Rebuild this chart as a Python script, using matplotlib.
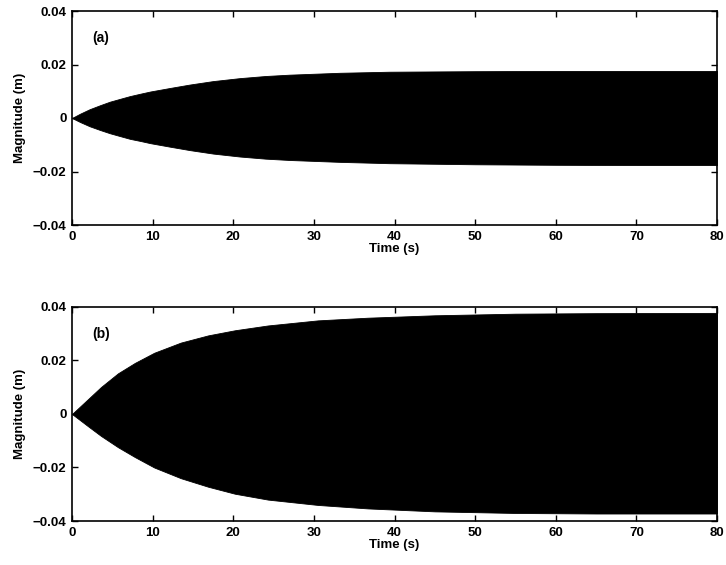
import matplotlib
matplotlib.use("Agg")
import matplotlib.pyplot as plt

# Envelope of response (a)
t_a = [0, 1, 2.2, 3.5, 4.7, 6, 7.2, 8.5, 9.7, 12.1, 14.6, 17.5, 20.8, 24, 27,
       33.2, 39.4, 50, 60, 70, 80]
upper_a = [0, 0.0016, 0.0033, 0.0048, 0.0061, 0.0072, 0.0082, 0.0091, 0.0099,
           0.0112, 0.0125, 0.0138, 0.0149, 0.0157, 0.0162, 0.0169, 0.0173,
           0.0175, 0.0176, 0.0176, 0.0176]
lower_a = [0, -0.0015, -0.0031, -0.0045, -0.0057, -0.0068, -0.0078, -0.0086,
           -0.0094, -0.0107, -0.0120, -0.0133, -0.0144, -0.0152, -0.0157,
           -0.0164, -0.0169, -0.0173, -0.0175, -0.0176, -0.0176]

# Envelope of response (b)
t_b = [0, 1, 2, 3.6, 5.7, 7.8, 10.2, 13.5, 16.9, 20.2, 24.3, 30.5, 36.7, 45,
       55, 65, 80]
upper_b = [0, 0.0028, 0.0056, 0.0101, 0.0152, 0.0191, 0.0229, 0.0267, 0.0294,
           0.0313, 0.0331, 0.0350, 0.0360, 0.0369, 0.0375, 0.0377, 0.0378]
lower_b = [0, -0.0023, -0.0046, -0.0082, -0.0124, -0.0161, -0.0200, -0.0240,
           -0.0272, -0.0298, -0.0320, -0.0340, -0.0353, -0.0364, -0.0370,
           -0.0372, -0.0372]

x_ticks = [0, 10, 20, 30, 40, 50, 60, 70, 80]
y_ticks = [-0.04, -0.02, 0, 0.02, 0.04]
y_tick_labels = ["\u22120.04", "\u22120.02", "0", "0.02", "0.04"]
panel_labels = ["(a)", "(b)"]

plt.rcParams['font.family'] = ['Liberation Sans', 'DejaVu Sans']
plt.rcParams['font.weight'] = 'bold'

fig = plt.figure(figsize=(7.26, 5.65), dpi=100)
ax_a = fig.add_axes([72/726, 1-225/565, 645/726, 214/565])
ax_b = fig.add_axes([72/726, 1-521/565, 645/726, 214/565])

for ax, t, up, lo, lab in [(ax_a, t_a, upper_a, lower_a, panel_labels[0]),
                           (ax_b, t_b, upper_b, lower_b, panel_labels[1])]:
    ax.fill_between(t, lo, up, color='black', linewidth=0.6, edgecolor='black')
    ax.set_xlim(0, 80)
    ax.set_ylim(-0.04, 0.04)
    ax.set_xticks(x_ticks)
    ax.set_xticklabels([str(v) for v in x_ticks])
    ax.set_yticks(y_ticks)
    ax.set_yticklabels(y_tick_labels)
    ax.tick_params(direction='in', length=4, width=1, top=True, right=True,
                   labelsize=9.5, pad=4)
    for s in ax.spines.values():
        s.set_linewidth(1.2)
    ax.set_xlabel("Time (s)", fontsize=9.5, fontweight='bold', labelpad=0)
    ax.set_ylabel("Magnitude (m)", fontsize=9.5, fontweight='bold', labelpad=5)
    ax.text(3.6, 0.030, lab, fontsize=10, fontweight='bold', ha='center', va='center')

fig.savefig("out.png", dpi=100)
